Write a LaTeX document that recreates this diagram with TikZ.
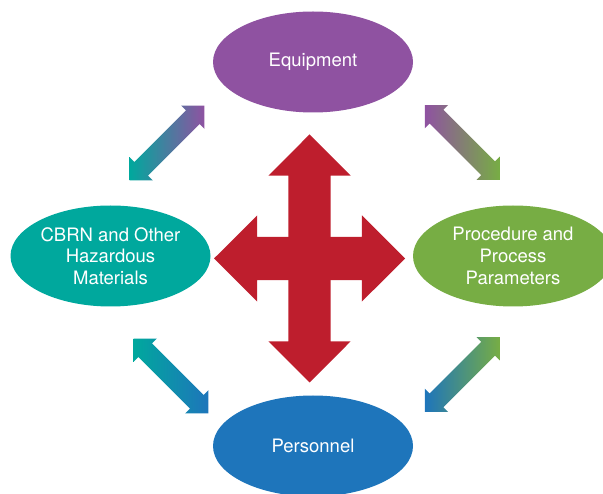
\documentclass[tikz,border=0pt]{standalone}
\usepackage{fontspec}
\setmainfont{TeX Gyre Heros}
\usetikzlibrary{shapes.geometric,shapes.arrows}

\definecolor{equipcol}{RGB}{143,82,161}
\definecolor{cbrncol}{RGB}{0,168,157}
\definecolor{proccol}{RGB}{119,173,68}
\definecolor{perscol}{RGB}{30,117,187}
\definecolor{crosscol}{RGB}{190,30,45}

\begin{document}
\begin{tikzpicture}[x=1pt, y=-1pt,
  main/.style = {ellipse, draw=none, text=white, inner sep=0pt, align=center,
    minimum width=200pt, minimum height=101pt,
    font=\fontsize{18.5}{21.7}\selectfont},
  link/.style = {double arrow, draw=none, inner sep=9.5pt,
    double arrow head extend=6.75pt, minimum height=106pt},
  cross/.style = {double arrow, draw=none, fill=crosscol}]
\clip (0,0) rectangle (603,494);

\node[cross, inner sep=21pt, double arrow head extend=20pt,
  minimum height=248pt, rotate=90] (vert) at (309.5,258.5) {};
\node[cross, inner sep=21.5pt, double arrow head extend=21.5pt,
  minimum height=191pt] (horiz) at (309.5,258.5) {};

\node[main, fill=equipcol] (equip) at (313,62) {Equipment};
\node[main, fill=cbrncol] (cbrn) at (110.5,256) {CBRN and Other\\Hazardous\\Materials};
\node[main, fill=proccol] (proc) at (513,256) {Procedure and\\Process\\Parameters};
\node[main, fill=perscol] (pers) at (313,446) {Personnel};

\node[link, rotate=45, left color=cbrncol, right color=equipcol] (ce) at (167,143) {};
\node[link, rotate=-45, left color=equipcol, right color=proccol] (ep) at (462.3,142.5) {};
\node[link, rotate=-45, left color=cbrncol, right color=perscol] (cp) at (171,376) {};
\node[link, rotate=45, left color=perscol, right color=proccol] (pp) at (462.3,374.5) {};
\end{tikzpicture}
\end{document}
